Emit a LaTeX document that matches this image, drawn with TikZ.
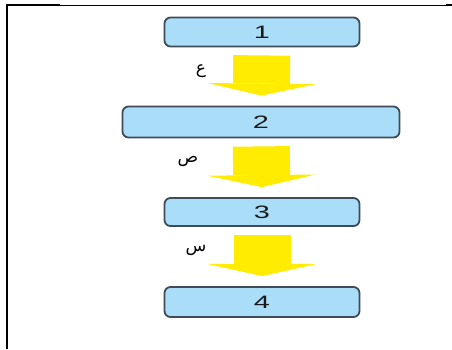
\documentclass[tikz,border=0pt]{standalone}
\usepackage{fontspec}
\setmainfont{Liberation Sans}
\newfontfamily\arabicfont[Script=Arabic]{DejaVu Sans}
\TeXXeTstate=1
\usetikzlibrary{arrows.meta}
\definecolor{boxblue}{HTML}{AADDF7}
\definecolor{boxline}{HTML}{3F4B57}
\definecolor{flowyellow}{HTML}{FFEC00}
\newcommand{\wide}[1]{\scalebox{1.6}[1]{#1}}

\begin{document}
\begin{tikzpicture}[x=1pt,y=-1pt,
    stage/.style={draw=boxline,line width=1.8pt,fill=boxblue,rounded corners=6pt,
      minimum width=195pt,minimum height=29pt,inner sep=0pt,text=black!90,
      font=\fontsize{18}{18}\selectfont},
    flow/.style={draw=flowyellow,line width=57pt,
      -{Triangle[width=108pt,length=12pt,line width=0pt]},shorten <=8pt,shorten >=10pt},
    letter/.style={font=\arabicfont\fontsize{17}{17}\selectfont}]
  \useasboundingbox (0,0) rectangle (452,349);
  % frame
  \draw[line width=2pt] (7,349) -- (7,5) -- (60,5);
  \draw[line width=0.9pt] (60,5) -- (446,5);
  \draw[line width=2pt] (446,5) -- (452,5);
  % stages
  \node[stage] (a) at (262,32) {\wide{1}};
  \node[stage,minimum width=277pt,minimum height=31pt] (b) at (261,122) {\wide{2}};
  \node[stage,minimum height=28pt] (c) at (262,212) {\wide{3}};
  \node[stage,minimum height=30pt] (d) at (262,302) {\wide{4}};
  % arrows
  \draw[flow] (a) -- (b);
  \draw[flow] (b) -- (c);
  \draw[flow] (c) -- (d);
  \node[letter] (la) at (201,71) {\beginR ع\endR};
  \node[letter] (lb) at (188,161) {\beginR ص\endR};
  \node[letter] (lc) at (196,250) {\beginR س\endR};
\end{tikzpicture}
\end{document}
